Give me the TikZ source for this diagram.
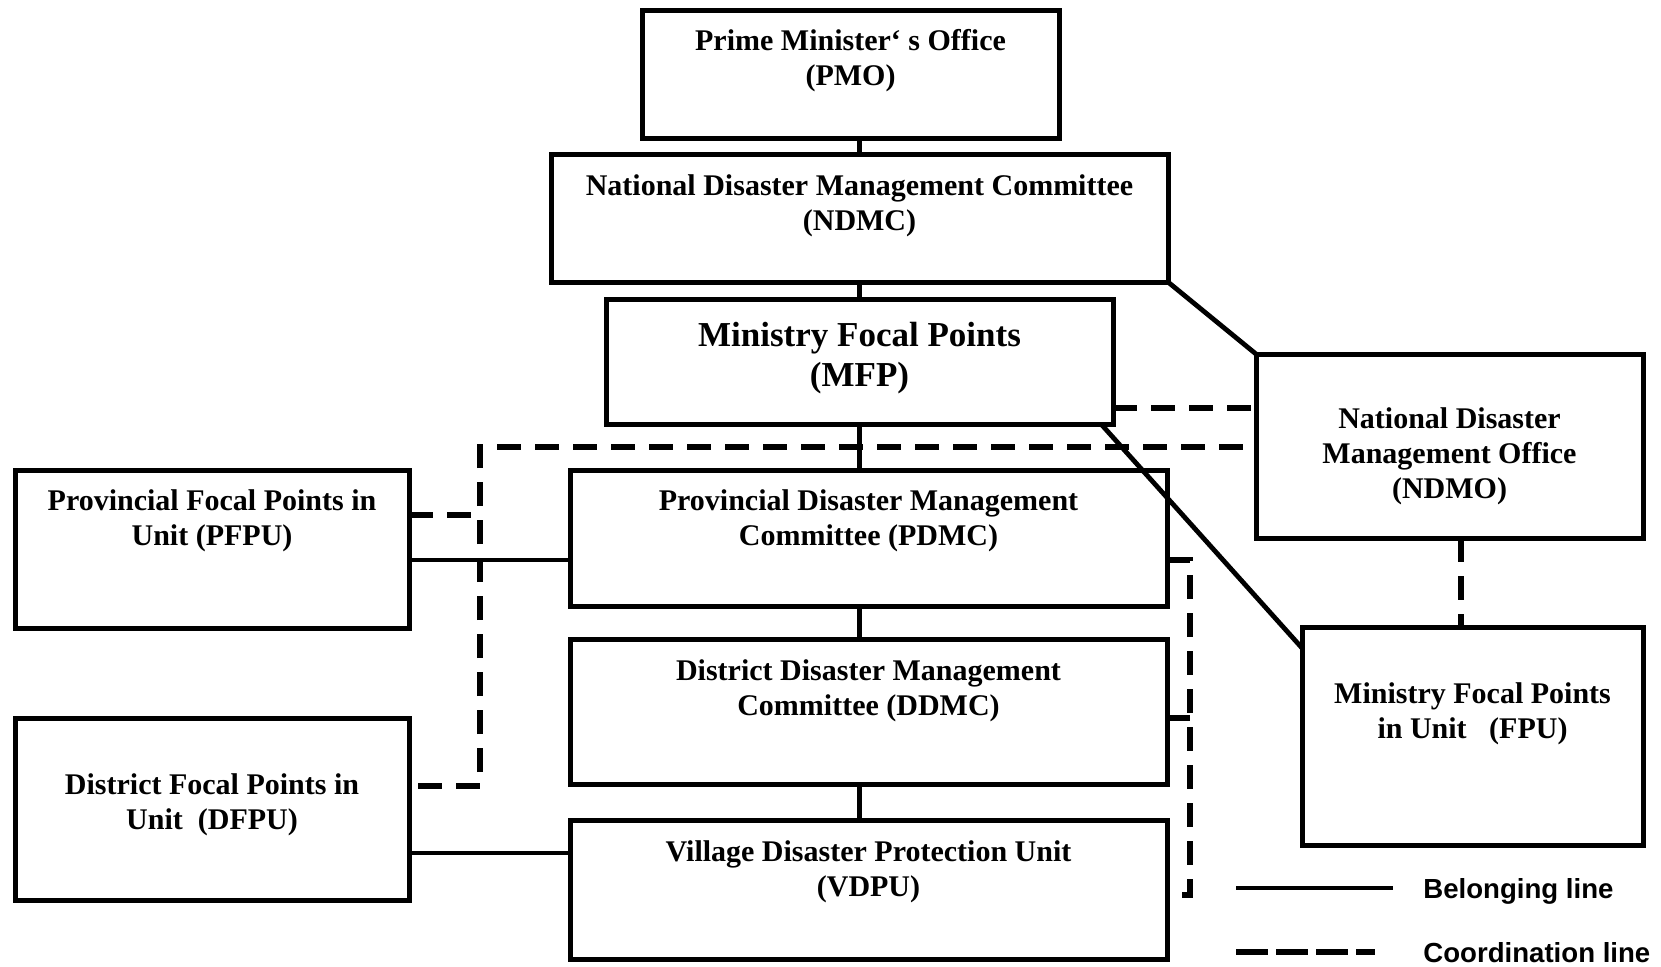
\documentclass[tikz,border=0pt]{standalone}
\usepackage{fontspec}
\setmainfont{Liberation Serif}
\newfontfamily\legfont{Liberation Sans}
\begin{document}
\begin{tikzpicture}[x=0.5pt,y=-0.5pt,
  box/.style={draw, line width=2.5pt, inner sep=0pt, outer sep=0pt, rectangle},
  txt/.style={align=center, inner sep=0pt, anchor=north, font=\fontsize{15}{17.5}\selectfont\bfseries},
  bigtxt/.style={align=center, inner sep=0pt, anchor=north, font=\fontsize{17.5}{20}\selectfont\bfseries},
  leg/.style={inner sep=0pt, anchor=base west, font=\legfont\fontsize{13.8}{16}\selectfont\bfseries},
  conn/.style={line width=2.4pt},
  coordl/.style={line width=2.6pt, dash pattern=on 12pt off 7pt},
  legdash/.style={line width=2.6pt, dash pattern=on 16pt off 4pt}]
\useasboundingbox (0,0) rectangle (1661,966);
% boxes
\node[box, minimum width=208.5pt, minimum height=64pt]   (pmo)  at (850.5,74) {};
\node[box, minimum width=308.5pt, minimum height=64pt]   (ndmc) at (859.5,218) {};
\node[box, minimum width=253.5pt, minimum height=62.5pt] (mfp)  at (859.5,361.5) {};
\node[box, minimum width=193.5pt, minimum height=92pt]   (ndmo) at (1449.5,446) {};
\node[box, minimum width=197pt,   minimum height=79pt]   (pfpu) at (212,549) {};
\node[box, minimum width=298.5pt, minimum height=68pt]   (pdmc) at (868.5,538) {};
\node[box, minimum width=298.5pt, minimum height=72.5pt] (ddmc) at (868.5,711.5) {};
\node[box, minimum width=298.5pt, minimum height=69.5pt] (vdpu) at (868.5,889.5) {};
\node[box, minimum width=197pt,   minimum height=91pt]   (dfpu) at (212,809) {};
\node[box, minimum width=170.5pt, minimum height=109pt]  (fpu)  at (1472.5,736) {};
% texts
\node[txt] (pmot) at (850.5,26) {\strut Prime Minister` s Office\\(PMO)};
\node[txt] (ndmct) at (859.5,171) {\strut National Disaster Management Committee\\(NDMC)};
\node[bigtxt] (mfpt) at (859.5,318) {\strut Ministry Focal Points\\(MFP)};
\node[txt] (ndmot) at (1449.5,404) {\strut National Disaster\\Management Office\\(NDMO)};
\node[txt] (pfput) at (212,486) {\strut Provincial Focal Points in\\Unit (PFPU)};
\node[txt] (pdmct) at (868.5,486) {\strut Provincial Disaster Management\\Committee (PDMC)};
\node[txt] (ddmct) at (868.5,656) {\strut District Disaster Management\\Committee (DDMC)};
\node[txt] (vdput) at (868.5,837) {\strut Village Disaster Protection Unit\\(VDPU)};
\node[txt] (dfput) at (212,770) {\strut District Focal Points in\\Unit~~(DFPU)};
\node[txt] (fput) at (1472.5,679) {\strut Ministry Focal Points\\in Unit~~~(FPU)};
% helper coordinates
\coordinate (spine) at (859.5,0);
\coordinate (yp) at (0,560);
\coordinate (yd) at (0,853);
\coordinate (ym) at (0,408);
\coordinate (yl) at (0,447);
\coordinate (yps) at (0,515);
\coordinate (vx) at (480,0);
\coordinate (rx) at (1190,0);
\coordinate (ydd) at (0,718);
\coordinate (yvd) at (0,895);
\coordinate (nx) at (1461,0);
\coordinate (dfs) at (418,786);
% belonging lines
\draw[conn] (spine |- pmo.south) -- (ndmc.north -| spine);
\draw[conn] (ndmc.south) -- (mfp.north);
\draw[conn] (mfp.south) -- (spine |- pdmc.north);
\draw[conn] (spine |- pdmc.south) -- (spine |- ddmc.north);
\draw[conn] (spine |- ddmc.south) -- (spine |- vdpu.north);
\draw[conn] (pfpu.east |- yp) -- (pdmc.west |- yp);
\draw[conn] (dfpu.east |- yd) -- (vdpu.west |- yd);
\draw[conn] (ndmc.south east) -- (ndmo.north west);
\draw[conn] ([xshift=-6pt]mfp.south east) -- ([yshift=-10.5pt]fpu.north west);
% coordination lines
\draw[coordl] (mfp.east |- ym) -- (ndmo.west |- ym);
\draw[coordl] (dfs) -- (vx |- dfs) -- (vx |- yl) -- (ndmo.west |- yl);
\draw[coordl] (pfpu.east |- yps) -- (vx |- yps);
\draw[coordl] (pdmc.east |- yp) -- (rx |- yp) -- (rx |- yvd) -- (vdpu.east |- yvd);
\draw[coordl] (ddmc.east |- ydd) -- (rx |- ydd);
\draw[coordl] (nx |- ndmo.south) -- (nx |- fpu.north);
% legend
\coordinate (la1) at (1236,888);
\coordinate (la2) at (1393,888);
\coordinate (lb1) at (1236,952);
\coordinate (lb2) at (1375,952);
\draw[conn] (la1) -- (la2);
\draw[legdash] (lb1) -- (lb2);
\node[leg] (belong) at (1423,898) {Belonging line};
\node[leg] (coordn) at (1423,962) {Coordination line};
\end{tikzpicture}
\end{document}
